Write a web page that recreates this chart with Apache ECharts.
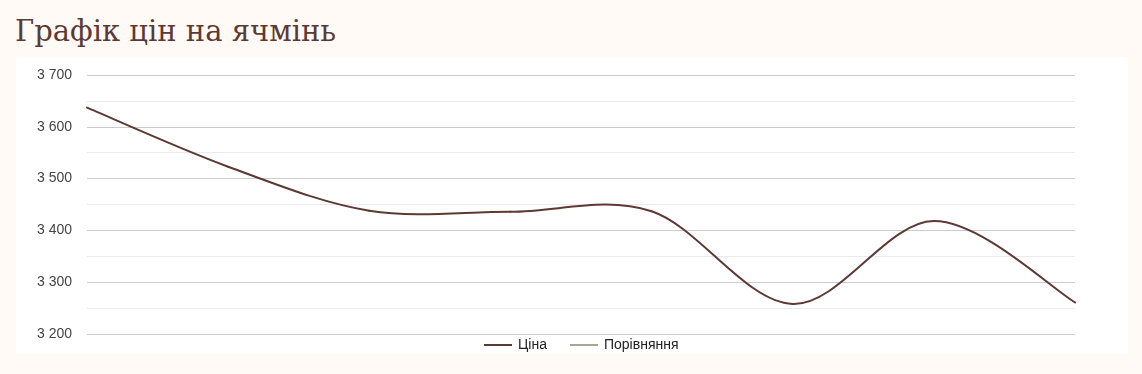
<!DOCTYPE html>
<html>
<head>
<meta charset="utf-8">
<script src="https://cdn.jsdelivr.net/npm/echarts@6/dist/echarts.min.js"></script>
<style>
  html, body { margin: 0; padding: 0; background: #fffaf6; width: 1142px; height: 374px; overflow: hidden; }
  #title { position: absolute; left: 15px; top: 17px; margin: 0; font-family: "DejaVu Serif", serif; font-weight: normal; font-size: 29px; line-height: 29px; color: #5c3a33; white-space: nowrap; }
  #chart { position: absolute; left: 16px; top: 57px; width: 1112px; height: 297px; background: #ffffff; }
</style>
</head>
<body>
<h1 id="title">Графік цін на ячмінь</h1>
<div id="chart"></div>
<script>
const categories = ['1', '2', '3', '4', '5', '6', '7', '8'];
const priceValues = [3637, 3523, 3438, 3436, 3437, 3258, 3418, 3261];
const compareValues = [];
const seriesNames = ['Ціна', 'Порівняння'];
const yMin = 3200, yMax = 3700, yStep = 100;

const priceColor = '#5c3a33';
const compareColor = '#a6a78f';
const fmt = v => String(v).replace(/\B(?=(\d{3})+(?!\d))/g, ' ');
const chart = echarts.init(document.getElementById('chart'));

// Catmull-Rom style curve through the data points, positioned via the axes' scales
function renderSegment(params, api) {
  const n = priceValues.length;
  const i = params.dataIndex;
  if (i >= n - 1) return null;
  const pt = k => {
    const kk = Math.max(0, Math.min(n - 1, k));
    return api.coord([kk, priceValues[kk]]);
  };
  const p0 = pt(i - 1), p1 = pt(i), p2 = pt(i + 1), p3 = pt(i + 2);
  return {
    type: 'bezierCurve',
    shape: {
      x1: p1[0], y1: p1[1],
      x2: p2[0], y2: p2[1],
      cpx1: p1[0] + (p2[0] - p0[0]) / 6, cpy1: p1[1] + (p2[1] - p0[1]) / 6,
      cpx2: p2[0] - (p3[0] - p1[0]) / 6, cpy2: p2[1] - (p3[1] - p1[1]) / 6
    },
    style: { stroke: priceColor, lineWidth: 2, fill: null, lineCap: 'round' },
    silent: true
  };
}

chart.setOption({
  animation: false,
  backgroundColor: '#ffffff',
  grid: { left: 71, right: 53, top: 18, bottom: 20, containLabel: false },
  legend: {
    top: 276, left: 463,
    itemGap: 23, itemWidth: 28, itemHeight: 2, icon: 'rect',
    textStyle: { fontFamily: 'Liberation Sans, Arial, sans-serif', fontSize: 14, color: '#222', padding: [0, 0, 0, 1] },
    data: [
      { name: seriesNames[0], itemStyle: { color: priceColor } },
      { name: seriesNames[1], itemStyle: { color: compareColor } }
    ]
  },
  xAxis: {
    type: 'category', data: categories, boundaryGap: false,
    axisLine: { show: false }, axisTick: { show: false }, axisLabel: { show: false }, splitLine: { show: false }
  },
  yAxis: {
    type: 'value', min: yMin, max: yMax, interval: yStep,
    axisLine: { show: false }, axisTick: { show: false },
    axisLabel: { formatter: fmt, fontFamily: 'Liberation Sans, Arial, sans-serif', fontSize: 14, color: '#444', margin: 15 },
    splitLine: { lineStyle: { color: '#cccccc', width: 1 } },
    minorTick: { show: false, splitNumber: 2 },
    minorSplitLine: { show: true, lineStyle: { color: '#ebebeb', width: 1 } }
  },
  series: [
    { name: seriesNames[0], type: 'custom', renderItem: renderSegment,
      data: priceValues.map((v, i) => [i, v]), encode: { x: 0, y: 1 },
      itemStyle: { color: priceColor } },
    { name: seriesNames[1], type: 'line', data: compareValues, showSymbol: false,
      lineStyle: { color: compareColor, width: 2 }, itemStyle: { color: compareColor } }
  ]
});
</script>
</body>
</html>
